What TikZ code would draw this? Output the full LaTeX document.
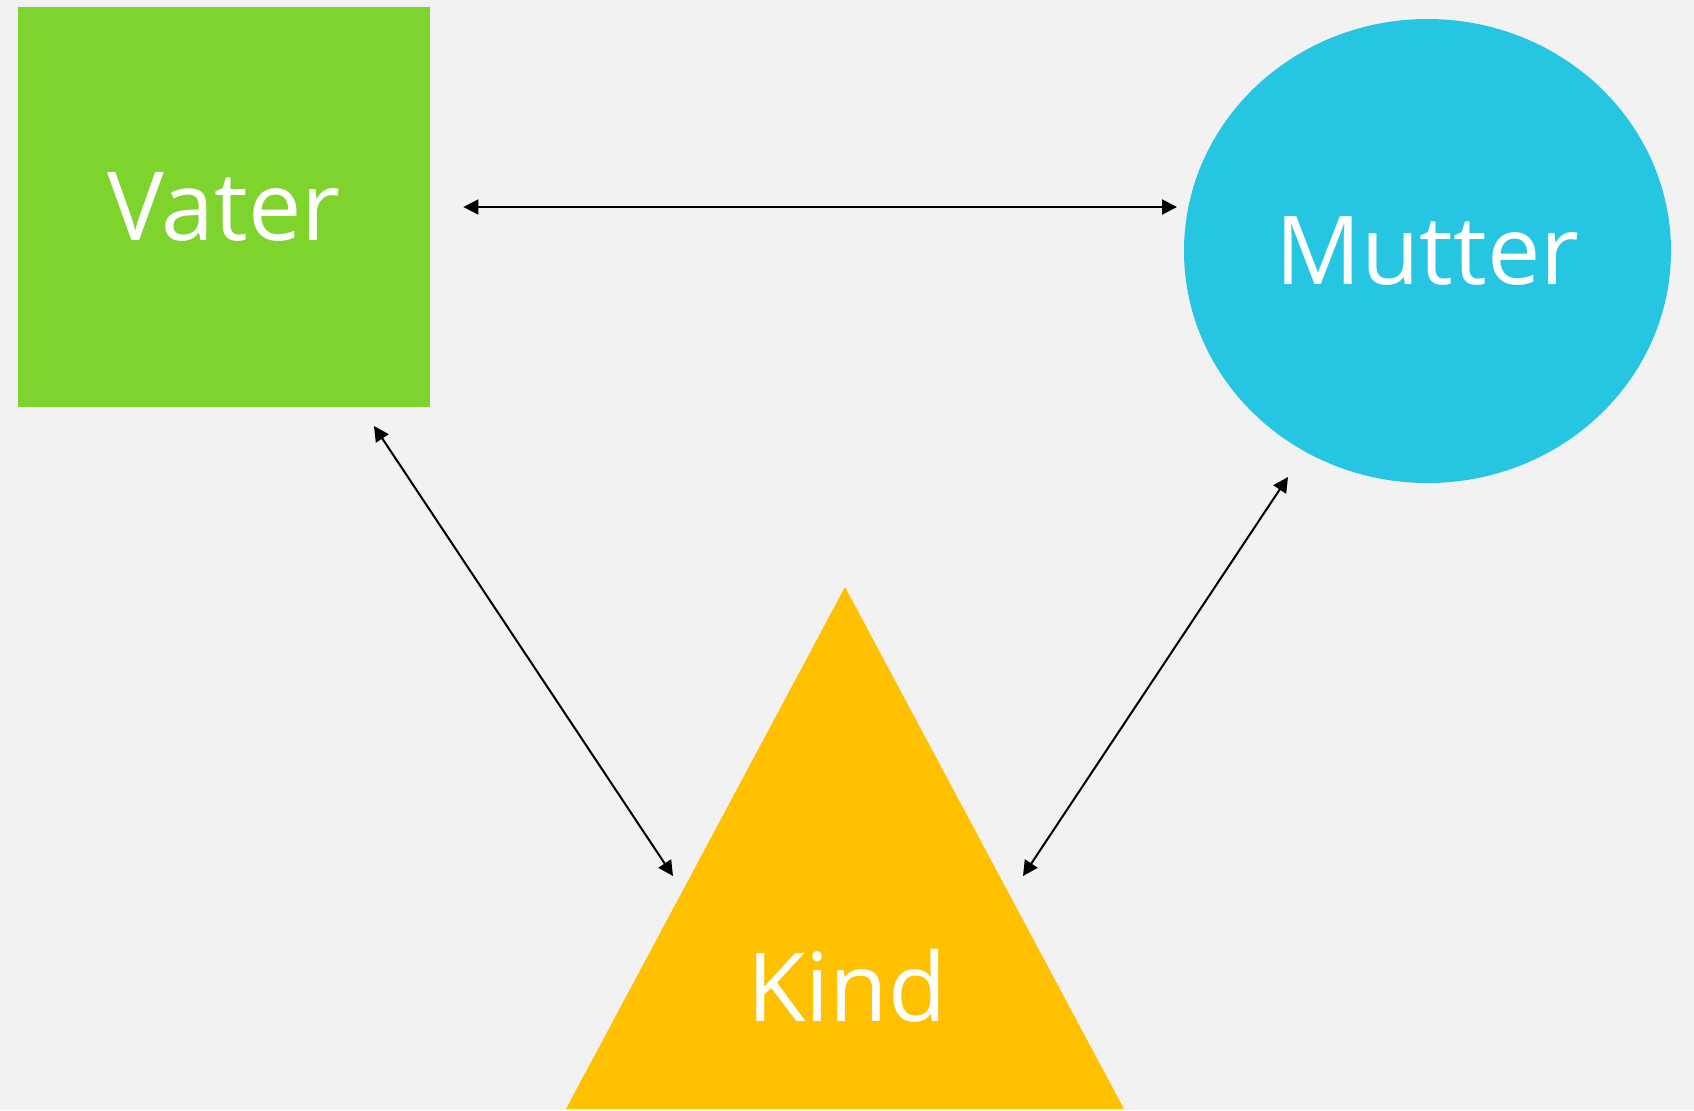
\documentclass[tikz,border=0pt]{standalone}
\usepackage{fontspec}
\setmainfont{Open Sans}
\usetikzlibrary{shapes.geometric,arrows.meta}
\definecolor{bggray}{HTML}{F2F2F2}
\definecolor{vatergreen}{HTML}{7FD32D}
\definecolor{mutterblue}{HTML}{26C6E3}
\definecolor{kindyellow}{HTML}{FFC000}

\begin{document}
\begin{tikzpicture}
	[x=0.5pt, y=-0.5pt,
	every node/.style={text=white,inner sep=0pt,font=\fontsize{47.6}{50}\selectfont},
	rel/.style={{Triangle[length=7.5pt,width=7.5pt]}-{Triangle[length=7.5pt,width=7.5pt]},line width=1pt}]
	\fill [bggray] (0,0) rectangle (1694,1110);
	\useasboundingbox (0,0) rectangle (1694,1110);
	\node (vater) [rectangle,fill=vatergreen,minimum width=206pt,minimum height=200pt] at (224,207) {Vater};
	\node (mutter) [ellipse,fill=mutterblue,minimum width=243.5pt,minimum height=232pt] at (1427.5,251) {Mutter};
	\fill [kindyellow] (566,1109) -- (845,587) -- (1124,1109) -- cycle;
	\node (kind) at (847,986) {Kind};
	\coordinate (vm-a) at ([xshift=16.5pt]vater.east);
	\coordinate (vm-b) at (1177,207);
	\coordinate (vk-a) at (374,426);
	\coordinate (vk-b) at (673,876);
	\coordinate (mk-a) at (1288,477);
	\coordinate (mk-b) at (1023,876);
	\draw [rel] (vm-a) -- (vm-b);
	\draw [rel] (vk-a) -- (vk-b);
	\draw [rel] (mk-a) -- (mk-b);
\end{tikzpicture}
\end{document}
